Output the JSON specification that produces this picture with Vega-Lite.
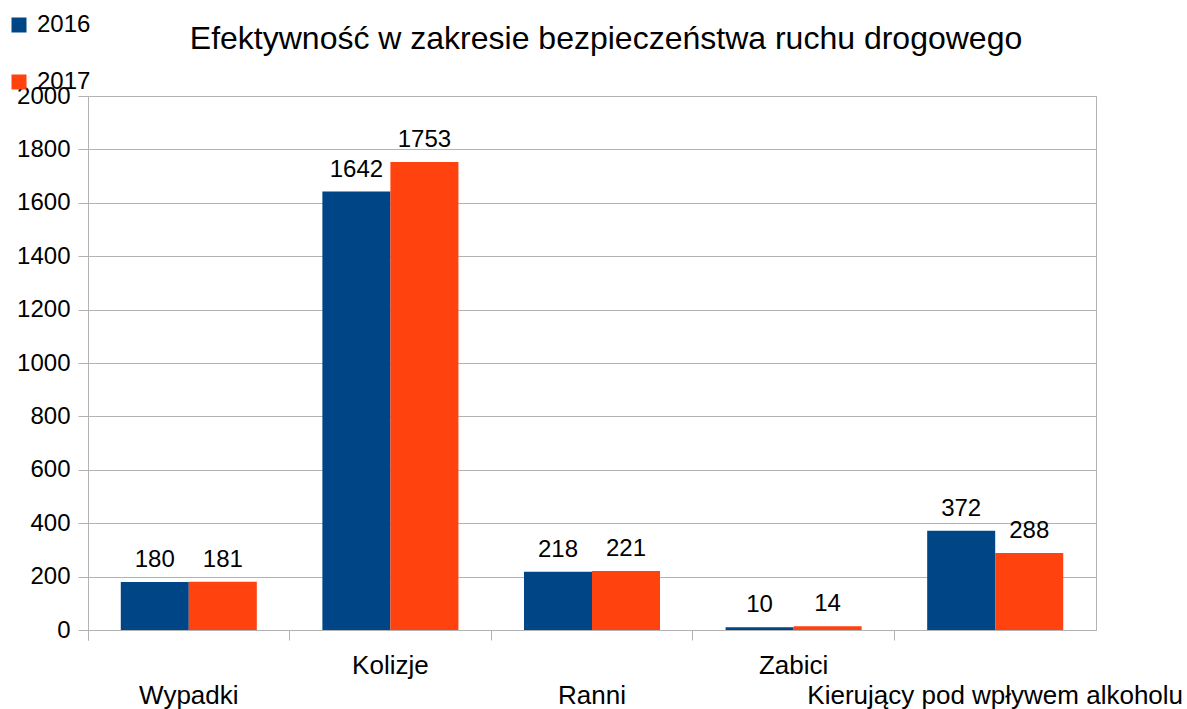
{
  "$schema": "https://vega.github.io/schema/vega-lite/v6.json",
  "width": 1008,
  "height": 534,
  "autosize": {"type": "none"},
  "padding": {"left": 88, "top": 96, "right": 91, "bottom": 79},
  "background": "white",
  "title": {
    "text": "Efektywność w zakresie bezpieczeństwa ruchu drogowego",
    "fontSize": 32,
    "font": "Liberation Sans",
    "fontWeight": "normal",
    "color": "black",
    "anchor": "middle",
    "baseline": "alphabetic",
    "offset": -68,
    "dx": 14
  },
  "config": {
    "view": {"stroke": "#b3b3b3"},
    "font": "Liberation Sans",
    "text": {"font": "Liberation Sans"}
  },
  "data": {
    "values": [
      {"kat": "Wypadki", "rok": "2016", "v": 180},
      {"kat": "Wypadki", "rok": "2017", "v": 181},
      {"kat": "Kolizje", "rok": "2016", "v": 1642},
      {"kat": "Kolizje", "rok": "2017", "v": 1753},
      {"kat": "Ranni", "rok": "2016", "v": 218},
      {"kat": "Ranni", "rok": "2017", "v": 221},
      {"kat": "Zabici", "rok": "2016", "v": 10},
      {"kat": "Zabici", "rok": "2017", "v": 14},
      {"kat": "Kierujący pod wpływem alkoholu", "rok": "2016", "v": 372},
      {"kat": "Kierujący pod wpływem alkoholu", "rok": "2017", "v": 288}
    ]
  },
  "encoding": {
    "x": {
      "field": "kat",
      "type": "nominal",
      "sort": null,
      "scale": {"paddingInner": 0, "paddingOuter": 0},
      "axis": {
        "title": null,
        "labelAngle": 0,
        "bandPosition": 0,
        "tickExtra": true,
        "tickSize": 10,
        "tickColor": "#b3b3b3",
        "grid": false,
        "domain": false,
        "labelFontSize": 26,
        "labelFont": "Liberation Sans",
        "labelColor": "black",
        "labelPadding": 12,
        "labelLineHeight": 30,
        "labelOverlap": false,
        "labelBound": false,
        "labelFlush": false,
        "labelLimit": 600,
        "labelExpr": "indexof(['Kolizje','Zabici'], datum.value) >= 0 ? datum.label : ['', datum.label]"
      }
    },
    "xOffset": {
      "field": "rok",
      "type": "nominal",
      "scale": {"paddingInner": 0, "paddingOuter": 0.482}
    },
    "y": {
      "field": "v",
      "type": "quantitative",
      "scale": {"domain": [0, 2000], "nice": false},
      "axis": {
        "title": null,
        "values": [0, 200, 400, 600, 800, 1000, 1200, 1400, 1600, 1800, 2000],
        "format": "d",
        "domain": false,
        "grid": true,
        "gridColor": "#b3b3b3",
        "tickColor": "#b3b3b3",
        "tickSize": 10,
        "labelPadding": 8,
        "labelFontSize": 24,
        "labelFont": "Liberation Sans",
        "labelColor": "black"
      }
    }
  },
  "layer": [
    {
      "mark": {"type": "bar"},
      "encoding": {
        "color": {
          "field": "rok",
          "type": "nominal",
          "scale": {"range": ["#004586", "#ff420e"]},
          "legend": {
            "orient": "none",
            "legendX": -81,
            "legendY": -83,
            "title": null,
            "symbolType": "square",
            "symbolSize": 225,
            "symbolStrokeWidth": 0,
            "labelFontSize": 24,
            "labelFont": "Liberation Sans",
            "labelColor": "black",
            "labelOffset": 6,
            "rowPadding": 33,
            "padding": 0,
            "direction": "vertical"
          }
        }
      }
    },
    {
      "mark": {"type": "text", "baseline": "alphabetic", "dy": -15, "fontSize": 24, "color": "black", "font": "Liberation Sans"},
      "encoding": {
        "text": {"field": "v", "type": "quantitative", "format": "d"}
      }
    }
  ]
}
